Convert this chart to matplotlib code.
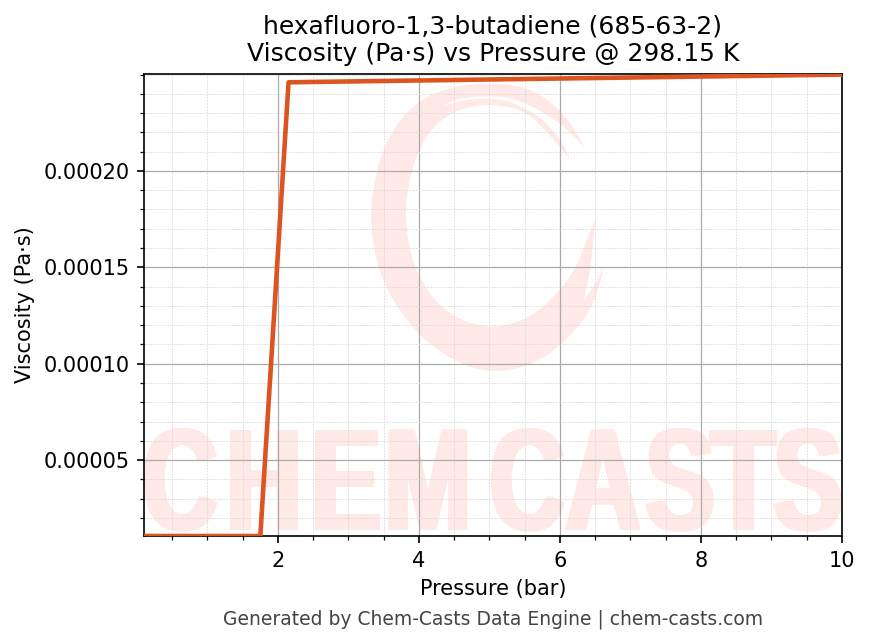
import matplotlib
matplotlib.use('Agg')
import matplotlib.pyplot as plt
from matplotlib.patches import Polygon
from matplotlib.patheffects import AbstractPathEffect
from matplotlib.ticker import AutoMinorLocator
from matplotlib.transforms import Affine2D

# Values
pressure = [0.1, 1.75, 2.15, 10.0]
viscosity = [1.06e-5, 1.06e-5, 2.46e-4, 2.50e-4]
y_ticks = [0.00005, 0.00010, 0.00015, 0.00020]
x_ticks = [2, 4, 6, 8, 10]

W, H = 869, 644
AX_L, AX_R, AX_T, AX_B = 144, 842, 74, 536

# Watermark outline, pixels of zoomed crop (3x, offset 360,70), split at the sharp tips
swirl_runs = [
    [(675, 235), (640, 170), (590, 110), (520, 60), (440, 42), (350, 40), (260, 55),
     (180, 90), (110, 160), (60, 260), (35, 380), (32, 470), (50, 580), (90, 680),
     (170, 790), (260, 860), (340, 895), (400, 905), (480, 895), (560, 860),
     (640, 790), (690, 720), (715, 660), (730, 595)],
    [(730, 595), (700, 650), (670, 695)],
    [(670, 695), (695, 580), (705, 450)],
    [(705, 450), (680, 510), (650, 590), (600, 660), (530, 730), (450, 765), (380, 772),
     (300, 750), (230, 700), (180, 625), (150, 550), (135, 440), (145, 340), (175, 240),
     (220, 170), (280, 125), (350, 105), (420, 105), (500, 125), (560, 185), (630, 265)],
    [(630, 265), (600, 205), (540, 140), (480, 108), (430, 88), (350, 85), (290, 95), (245, 110)],
    [(245, 110), (300, 82), (430, 78), (500, 100), (580, 145), (640, 195), (675, 235)],
]
wm_letters = ['C', 'H', 'E', 'M', 'C', 'A', 'S', 'T', 'S']
wm_centers = [180, 264, 346, 428, 527, 603, 680, 743, 808]
WM_COLOR = '#ffe9e6'
WM_BASELINE = 530


class StretchY(AbstractPathEffect):
    # stretches the glyphs upward from the baseline and fattens them sideways
    def __init__(self, factor, y0, fatten):
        super().__init__()
        self.factor = factor
        self.y0 = y0
        self.fatten = fatten

    def draw_path(self, renderer, gc, tpath, affine, rgbFace=None):
        for dx in (-self.fatten, 0, self.fatten):
            stretch = Affine2D().translate(0, -self.y0).scale(1, self.factor).translate(dx, self.y0)
            renderer.draw_path(gc, tpath, affine + stretch, rgbFace)


def to_axes(px, py):
    return (px - AX_L) / (AX_R - AX_L), (AX_B - py) / (AX_B - AX_T)


def smooth(run, passes=2):
    # Chaikin corner cutting, keeps both ends of the run
    for _ in range(passes):
        new = [run[0]]
        for (x0, y0), (x1, y1) in zip(run[:-1], run[1:]):
            new.append((0.75 * x0 + 0.25 * x1, 0.75 * y0 + 0.25 * y1))
            new.append((0.25 * x0 + 0.75 * x1, 0.25 * y0 + 0.75 * y1))
        new.append(run[-1])
        run = new
    return run


fig = plt.figure(figsize=(W / 150, H / 150), dpi=150)
ax = fig.add_axes([AX_L / W, 1 - AX_B / H, (AX_R - AX_L) / W, (AX_B - AX_T) / H])

# Watermark
pts = []
for run in swirl_runs:
    pts += [to_axes(360 + x / 3, 70 + y / 3) for x, y in smooth(run)]
ax.add_patch(Polygon(pts, closed=True, transform=ax.transAxes, facecolor=WM_COLOR,
                     edgecolor='none', zorder=0.1))
for letter, cx in zip(wm_letters, wm_centers):
    xa, ya = to_axes(cx, WM_BASELINE)
    ax.text(xa, ya, letter, transform=ax.transAxes, ha='center', va='baseline',
            family='Liberation Sans', fontweight='bold', fontsize=50, color=WM_COLOR,
            zorder=0.1, clip_on=True, path_effects=[StretchY(1.4, H - WM_BASELINE, 3)])

ax.plot(pressure, viscosity, color='#dc5520', linewidth=2.2, zorder=3)

ax.set_xlim(0.1, 10)
ax.set_ylim(1.06e-5, 2.503e-4)
ax.set_xticks(x_ticks)
ax.set_yticks(y_ticks)
ax.set_yticklabels([f'{v:.5f}' for v in y_ticks])
ax.xaxis.set_minor_locator(AutoMinorLocator(4))
ax.yaxis.set_minor_locator(AutoMinorLocator(5))
ax.tick_params(which='major', labelsize=10)
ax.set_axisbelow(True)
ax.grid(True, which='major', color='#aaaaaa', linewidth=0.6)
ax.grid(True, which='minor', color='#d8d8d8', linewidth=0.4, linestyle=(0, (2, 1.5)))

ax.set_xlabel('Pressure (bar)', fontsize=10)
ax.set_ylabel('Viscosity (Pa·s)', fontsize=10)
ax.set_title('hexafluoro-1,3-butadiene (685-63-2)\nViscosity (Pa·s) vs Pressure @ 298.15 K',
             fontsize=12)
fig.text(493 / W, 1 - 619 / H, 'Generated by Chem-Casts Data Engine | chem-casts.com',
         ha='center', va='center', fontsize=9, color='#444444')

fig.savefig('out.png', dpi=150)
